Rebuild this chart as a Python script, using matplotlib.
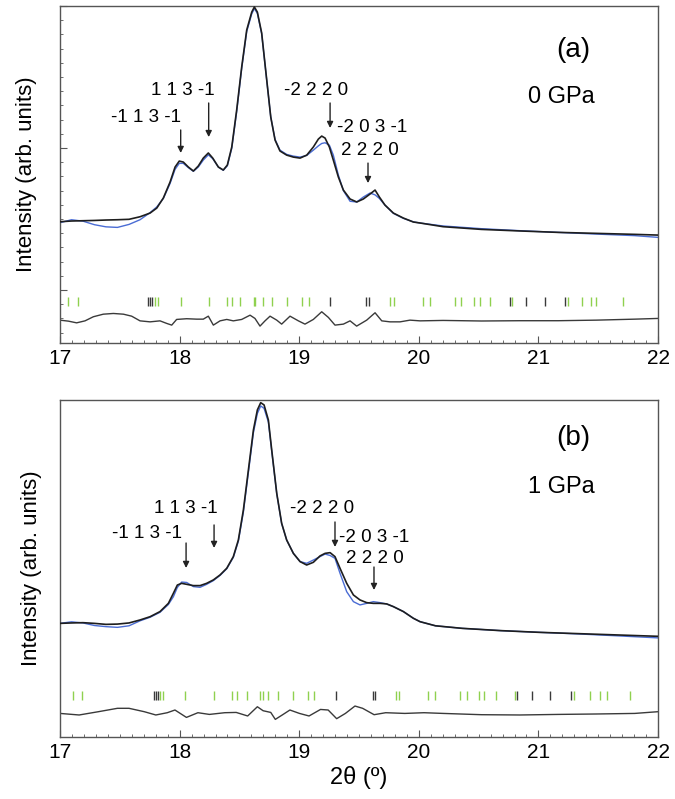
import matplotlib
matplotlib.use("Agg")
import matplotlib.pyplot as plt
from matplotlib.ticker import MultipleLocator

plt.rcParams['font.family'] = ['Liberation Sans', 'DejaVu Sans']

# ---- panel (a), 0 GPa ----
tth_a = [17.000, 17.096, 17.192, 17.288, 17.384, 17.480, 17.577,
         17.669, 17.753, 17.809, 17.864, 17.920, 17.962, 17.997, 18.031, 18.073, 18.115,
         18.156, 18.198, 18.240, 18.277, 18.324, 18.365, 18.399, 18.436, 18.477, 18.519,
         18.561, 18.603, 18.625, 18.650, 18.686, 18.722, 18.762, 18.798, 18.839, 18.895,
         18.951, 19.007, 19.063, 19.118, 19.160, 19.188, 19.216, 19.252, 19.285, 19.327,
         19.369, 19.425, 19.481, 19.536, 19.592, 19.634, 19.670, 19.717, 19.787, 19.870,
         19.954, 20.010,
         20.203, 20.523, 20.844, 21.164, 21.484, 21.805, 21.997]
obs_a = [14.81, 14.86, 14.88, 14.90, 14.93, 14.95, 14.98,
         15.16, 15.42, 15.77, 16.48, 17.60, 18.66, 19.08, 19.01, 18.66, 18.38,
         18.73, 19.29, 19.65, 19.29, 18.66, 18.45, 18.80, 20.07, 22.67, 25.70,
         28.31, 29.57, 29.93, 29.57, 28.10, 25.28, 22.18, 20.56, 19.79, 19.50,
         19.36, 19.29, 19.50, 20.07, 20.63, 20.84, 20.70, 20.07, 19.15, 17.96,
         17.04, 16.41, 16.20, 16.41, 16.76, 17.04, 16.55, 15.98, 15.42, 15.07,
         14.79, 14.72,
         14.46, 14.27, 14.16, 14.06, 13.99, 13.92, 13.87]
calc_a = [14.74, 14.95, 14.85, 14.60, 14.45, 14.41, 14.62,
          14.95, 15.45, 15.85, 16.45, 17.50, 18.50, 18.92, 18.92, 18.62, 18.36,
          18.66, 19.15, 19.52, 19.25, 18.66, 18.43, 18.75, 19.98, 22.55, 25.60,
          28.20, 29.45, 29.82, 29.48, 28.05, 25.25, 22.18, 20.60, 19.85, 19.55,
          19.43, 19.36, 19.48, 19.85, 20.15, 20.32, 20.37, 20.20, 19.50, 18.10,
          17.00, 16.25, 16.20, 16.55, 16.83, 16.70, 16.45, 15.98, 15.40, 15.05,
          14.80, 14.72,
          14.51, 14.32, 14.18, 14.06, 13.94, 13.83, 13.71]
diff_tth_a = [17.000, 17.070, 17.139, 17.209, 17.279, 17.362, 17.446, 17.530, 17.599, 17.669,
              17.753, 17.836, 17.892, 17.934, 17.975, 18.059, 18.143, 18.198, 18.240, 18.282,
              18.338, 18.394, 18.449, 18.519, 18.589, 18.630, 18.672, 18.714, 18.756, 18.812,
              18.853, 18.923, 18.993, 19.048, 19.118, 19.188, 19.244, 19.299, 19.369, 19.425,
              19.480, 19.564, 19.634, 19.690, 19.759, 19.843, 19.926, 20.010,
              20.203, 20.523, 20.844, 21.164, 21.484, 21.805, 21.997]
diff_a = [7.88, 7.81, 7.69, 7.83, 8.12, 8.30, 8.35, 8.30, 8.16, 7.83,
          7.76, 7.83, 7.65, 7.53, 7.93, 7.98, 7.95, 7.95, 8.16, 7.53,
          7.83, 7.93, 7.83, 7.93, 8.23, 8.00, 7.46, 7.83, 8.16, 7.88,
          7.60, 8.16, 7.83, 7.60, 7.93, 8.47, 8.07, 7.53, 7.60, 7.83,
          7.46, 7.88, 8.40, 7.83, 7.76, 7.76, 7.88, 7.83,
          7.86, 7.82, 7.84, 7.84, 7.88, 7.95, 8.00]
refl_green_a = [17.070, 17.151, 17.794, 17.823, 18.009, 18.249, 18.393, 18.441, 18.505, 18.618,
                18.634, 18.698, 18.771, 18.899, 19.024, 19.082, 19.761, 19.796, 20.036, 20.091,
                20.306, 20.354, 20.459, 20.514, 20.594, 20.780, 21.244, 21.366, 21.436, 21.484,
                21.709]
refl_black_a = [17.737, 17.753, 17.769, 19.258, 19.562, 19.582, 20.764, 20.898, 21.052, 21.222]

# ---- panel (b), 1 GPa ----
tth_b = [17.000, 17.096, 17.192, 17.288, 17.384, 17.480, 17.577,
         17.669, 17.753, 17.836, 17.906, 17.948, 17.981, 18.017, 18.059, 18.115, 18.171,
         18.226, 18.282, 18.338, 18.394, 18.449, 18.491, 18.533, 18.575, 18.617, 18.650,
         18.678, 18.706, 18.742, 18.770, 18.812, 18.853, 18.895, 18.951, 19.007, 19.062,
         19.118, 19.174, 19.216, 19.258, 19.299, 19.341, 19.397, 19.453, 19.508, 19.564,
         19.620, 19.676, 19.731, 19.787, 19.871, 19.954, 20.010,
         20.139, 20.363, 20.684, 21.004, 21.324, 21.644, 21.997]
obs_b = [14.27, 14.30, 14.32, 14.27, 14.20, 14.22, 14.30,
         14.51, 14.74, 15.10, 15.68, 16.39, 16.97, 17.09, 17.02, 16.93, 16.93,
         17.09, 17.33, 17.68, 18.15, 18.97, 20.14, 22.25, 25.07, 27.89, 29.30,
         29.81, 29.65, 28.59, 26.48, 23.43, 21.32, 20.14, 19.20, 18.62, 18.38,
         18.57, 19.02, 19.20, 19.25, 18.97, 18.15, 17.09, 16.27, 15.92, 15.73,
         15.68, 15.68, 15.64, 15.45, 15.10, 14.63, 14.39,
         14.10, 13.92, 13.76, 13.64, 13.55, 13.46, 13.36]
calc_b = [14.27, 14.38, 14.30, 14.12, 14.04, 13.99, 14.10,
          14.45, 14.70, 15.05, 15.60, 16.15, 16.80, 17.18, 17.15, 16.86, 16.81,
          17.02, 17.28, 17.65, 18.12, 18.92, 20.05, 22.10, 24.90, 27.70, 29.05,
          29.58, 29.41, 28.45, 26.40, 23.40, 21.30, 20.14, 19.20, 18.62, 18.50,
          18.73, 18.97, 19.15, 19.05, 18.85, 17.80, 16.50, 15.80, 15.57, 15.68,
          15.80, 15.73, 15.64, 15.45, 15.10, 14.63, 14.39,
          14.10, 13.92, 13.76, 13.64, 13.53, 13.40, 13.25]
diff_tth_b = [17.000, 17.160, 17.320, 17.480, 17.577, 17.705, 17.801, 17.897, 17.961, 18.057,
              18.153, 18.249, 18.377, 18.473, 18.569, 18.650, 18.698, 18.762, 18.800, 18.858,
              18.922, 19.002, 19.082, 19.178, 19.242, 19.313, 19.386, 19.466, 19.530, 19.626,
              19.723, 19.883, 20.043, 20.203, 20.523, 20.844, 21.164, 21.484, 21.805, 21.997]
diff_b = [7.93, 7.82, 8.05, 8.29, 8.29, 8.05, 7.82, 7.98, 8.17, 7.65,
          7.98, 7.86, 7.98, 8.00, 7.75, 8.40, 8.12, 8.00, 7.51, 7.82,
          8.17, 7.93, 7.75, 8.21, 8.17, 7.56, 7.93, 8.45, 8.29, 7.84,
          7.98, 7.93, 7.98, 7.93, 7.84, 7.82, 7.86, 7.89, 7.93, 8.05]
refl_green_b = [17.112, 17.183, 17.839, 17.865, 18.047, 18.288, 18.441, 18.480, 18.560, 18.672,
                18.698, 18.736, 18.826, 18.944, 19.076, 19.124, 19.812, 19.835, 20.075, 20.139,
                20.347, 20.402, 20.507, 20.546, 20.642, 20.802, 21.299, 21.427, 21.516, 21.571,
                21.766]
refl_black_b = [17.785, 17.801, 17.817, 19.306, 19.620, 19.633, 20.818, 20.946, 21.100, 21.276]

# peak labels: (text, x, y) and arrows: (x, y_start, y_end)
labels_a = [('1 1 3 -1', 18.03, 24.08), ('-1 1 3 -1', 17.72, 22.18), ('-2 2 2 0', 19.14, 24.08),
            ('-2 0 3 -1', 19.61, 21.41), ('2 2 2 0', 19.59, 19.86)]
arrows_a = [(18.009, 21.27, 19.65), (18.243, 23.17, 20.77), (19.258, 23.17, 21.41),
            (19.575, 18.94, 17.53)]
labels_b = [('1 1 3 -1', 18.05, 22.39), ('-1 1 3 -1', 17.73, 20.63), ('-2 2 2 0', 19.19, 22.39),
            ('-2 0 3 -1', 19.63, 20.35), ('2 2 2 0', 19.63, 18.87)]
arrows_b = [(18.054, 19.93, 18.17), (18.288, 21.20, 19.58), (19.299, 21.41, 19.65),
            (19.625, 18.24, 16.62)]

OBS_C = '#1e1e1e'
CALC_C = '#4a6cd4'
GREEN_C = '#8fd14f'
GRAY_C = '#3a3a3a'
SPINE_C = '#555555'


def draw_panel(ax, tth, obs, calc, dtth, diff, rg, rb, labels, arrows, tag, pressure, yticks):
    ax.plot(tth, calc, color=CALC_C, lw=1.0, zorder=2, solid_joinstyle='round')
    ax.plot(tth, obs, color=OBS_C, lw=1.2, zorder=3, solid_joinstyle='round')
    ax.plot(dtth, diff, color=GRAY_C, lw=1.0, solid_joinstyle='round')
    ax.vlines(rg, 8.85, 9.5, color=GREEN_C, lw=1.0)
    ax.vlines(rb, 8.85, 9.5, color=GRAY_C, lw=1.0)

    for txt, x, y in labels:
        ax.text(x, y, txt, fontsize=13.5, ha='center', va='center')
    for x, y0, y1 in arrows:
        ax.annotate('', xy=(x, y1), xytext=(x, y0),
                    arrowprops=dict(arrowstyle='-|>', color='#222222', lw=1.0,
                                    mutation_scale=9, shrinkA=0, shrinkB=0))
    ax.text(21.29, tag[1], tag[0], fontsize=20, ha='center', va='center')
    ax.text(21.19, pressure[1], pressure[0], fontsize=17, ha='center', va='center')

    ax.set_xlim(17, 22)
    ax.set_ylim(6.27, 30.0)
    ax.xaxis.set_major_locator(MultipleLocator(1))
    ax.xaxis.set_minor_locator(MultipleLocator(0.1))
    ax.tick_params(axis='x', which='major', direction='in', length=5, width=0.8,
                   color=SPINE_C, labelsize=15, pad=4)
    ax.tick_params(axis='x', which='minor', direction='in', length=2, width=0.6, color=SPINE_C)
    if yticks:
        ax.yaxis.set_major_locator(MultipleLocator(10))
        ax.yaxis.set_minor_locator(MultipleLocator(1))
        ax.tick_params(axis='y', which='major', direction='in', length=5, width=0.8,
                       color=SPINE_C, labelleft=False)
        ax.tick_params(axis='y', which='minor', direction='in', length=2.5, width=0.6,
                       color=SPINE_C)
    else:
        ax.set_yticks([])
    for s in ax.spines.values():
        s.set_color(SPINE_C)
        s.set_linewidth(1.0)
    ax.set_ylabel('Intensity (arb. units)', fontsize=16, labelpad=13)


fig = plt.figure(figsize=(6.75, 7.99), dpi=100)
ax1 = fig.add_axes([0.0889, 0.5707, 0.886, 0.4218])
ax2 = fig.add_axes([0.0889, 0.0776, 0.886, 0.4218])

draw_panel(ax1, tth_a, obs_a, calc_a, diff_tth_a, diff_a, refl_green_a, refl_black_a,
           labels_a, arrows_a, ('(a)', 26.9), ('0 GPa', 23.59), True)
draw_panel(ax2, tth_b, obs_b, calc_b, diff_tth_b, diff_b, refl_green_b, refl_black_b,
           labels_b, arrows_b, ('(b)', 27.32), ('1 GPa', 23.87), False)
ax2.set_xlabel('2θ (º)', fontsize=17, labelpad=3)

fig.savefig('out.png', dpi=100)
